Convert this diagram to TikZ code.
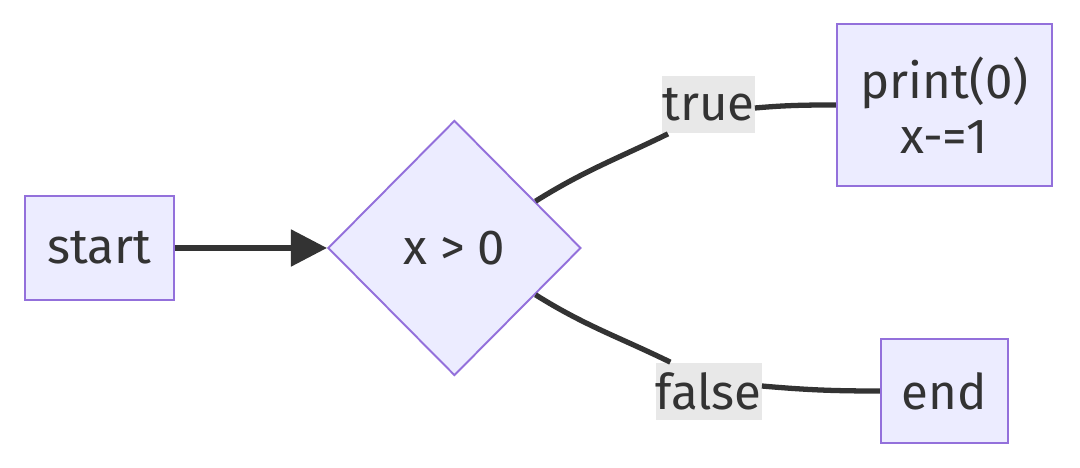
\documentclass[tikz,border=0pt]{standalone}
\usepackage{fontspec}
\setmainfont{Fira Sans}
\usetikzlibrary{shapes.geometric, arrows.meta, calc, positioning}
\definecolor{nodefill}{HTML}{ECECFF}
\definecolor{nodeline}{HTML}{9370DB}
\definecolor{edgeline}{HTML}{333333}
\definecolor{labelfill}{HTML}{E8E8E8}
\tikzstyle{block} = [rectangle, draw=nodeline, fill=nodefill, line width=1.1pt, minimum height=2.08cm, text centered, align=center, text=edgeline]
\tikzstyle{decision} = [diamond, draw=nodeline, fill=nodefill, line width=1.1pt, minimum width=5.06cm, minimum height=5.1cm, inner sep=0pt, text=edgeline]
\tikzstyle{edgelabel} = [rectangle, fill=labelfill, minimum height=1.14cm, inner xsep=0pt, inner ysep=0pt, text=edgeline]
\tikzstyle{line} = [line width=3pt, draw=edgeline]
\tikzstyle{arrow} = [line, -{Triangle[length=7.2mm, width=7.2mm]}]
\begin{document}
\begin{tikzpicture}[font=\fontsize{28}{31}\selectfont]
		\useasboundingbox (0,0) rectangle (21.6,-9.36);
		\node (Start) [block, minimum width=2.98cm] at (1.99,-4.96) {start};
		\node (Cond) [decision, right = 3.04cm of Start] {x > 0};
		\node (Print) [block, minimum width=4.3cm, minimum height=3.24cm, right = 5.08cm of Cond.east, yshift=2.86cm] {print(0)\\x-=1};
		\node (End) [block, minimum width=2.54cm, right = 5.96cm of Cond.east, yshift=-2.86cm] {end};
		\node (True) [edgelabel, left = 1.62cm of Print.west] {true};
		\node (False) [edgelabel, left = 2.36cm of End.west] {false};
		
		\draw [arrow] (Start) -- (Cond);
		\draw [line] (Cond.30) to[out=32, in=206] ($(True.south west)+(0.12,0)$);
		\draw [line] ($(True.east)+(0,-0.06)$) to[out=5, in=180] (Print.west);
		\draw [line] (Cond.-30) to[out=-32, in=154] ($(False.north west)+(0.3,0)$);
		\draw [line] ($(False.east)+(0,0.1)$) to[out=-5, in=180] (End.west);
\end{tikzpicture}
\end{document}
